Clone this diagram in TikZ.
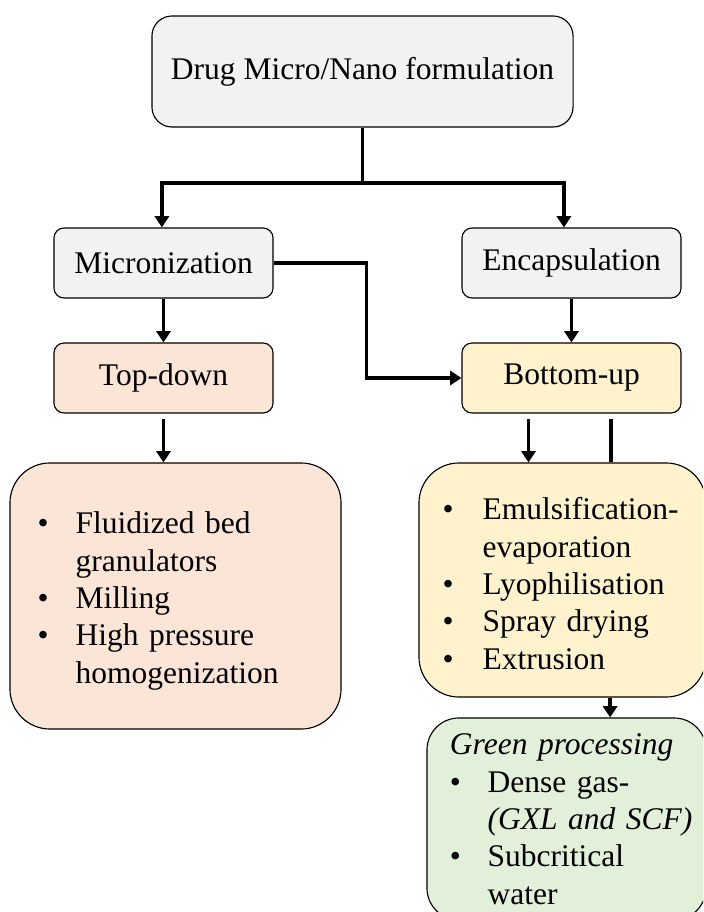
\documentclass[tikz,border=0pt]{standalone}
\usepackage{fontspec}
\setmainfont{LiberationSerif}[Extension=.ttf, UprightFont=*-Regular, ItalicFont=*-Italic, BoldFont=*-Bold, BoldItalicFont=*-BoldItalic]
\usetikzlibrary{arrows.meta}
\definecolor{boxgray}{HTML}{F2F2F2}
\definecolor{downfill}{HTML}{FBE5D6}
\definecolor{upfill}{HTML}{FFF2CC}
\definecolor{greenfill}{HTML}{E2F0D9}
\begin{document}
\begin{tikzpicture}[x=0.025cm, y=-0.025cm, font=\fontsize{22.4}{26.6}\selectfont]
	\useasboundingbox (0,0) rectangle (703,912);
	\clip (0,0) rectangle (703,912);
	\tikzset{
		box/.style={draw=black, line width=0.8pt, fill=boxgray, rounded corners=0.25cm, minimum width=5.475cm, minimum height=1.75cm, inner sep=0pt},
		listbox/.style={draw=black, line width=0.8pt, rounded corners=1cm, align=left, inner ysep=0pt},
		link/.style={line width=2.5pt},
		arr/.style={link, -{Triangle[length=8pt, width=10pt]}}
	}
	\node[box, minimum width=10.525cm, minimum height=2.775cm, rounded corners=0.5cm] (top) at (362.5, 71.5) {Drug Micro/Nano formulation};
	\node[box] (micro) at (163.5, 263) {Micronization};
	\node[box] (encap) at (571.5, 263) {Encapsulation};
	\node[box, fill=downfill] (topdown) at (163.5, 378) {Top-down};
	\node[box, fill=upfill] (bottomup) at (571.5, 378) {Bottom-up};
	\node[listbox, fill=downfill, minimum width=8.275cm, minimum height=6.65cm, inner xsep=0.69cm, text width=6.895cm] (tdlist) at (175.5, 596) {%
		\begin{tabular}{@{}p{0.95cm}@{}l@{}}
			\rule{0pt}{25.7pt}\textbullet & Fluidized bed\\
			& granulators\\
			\textbullet & Milling\\
			\textbullet & High pressure\\
			& homogenization
		\end{tabular}};
	\node[listbox, fill=upfill, minimum width=7.175cm, minimum height=5.85cm, inner xsep=0.59cm, text width=5.995cm] (bulist) at (562.5, 580) {%
		\begin{tabular}{@{}p{1cm}@{}l@{}}
			\rule{0pt}{28.6pt}\textbullet & Emulsification-\\
			& evaporation\\
			\textbullet & Lyophilisation\\
			\textbullet & Spray drying\\
			\textbullet & Extrusion
		\end{tabular}};
	\node[listbox, fill=greenfill, rounded corners=0.8cm, minimum width=6.975cm, minimum height=5.05cm, inner xsep=0.575cm, text width=5.825cm] (green) at (566.5, 819) {%
		\begin{tabular}{@{}p{0.94cm}@{}l@{}}
			\multicolumn{2}{@{}l@{}}{\rule{0pt}{22.9pt}\itshape Green processing}\\
			\textbullet & Dense gas-\\
			& \itshape (GXL and SCF)\\
			\textbullet & Subcritical\\
			& water
		\end{tabular}};
	\coordinate (split) at (362.5, 183);
	\draw[link] (top.south) -- (split);
	\draw[arr] (split) -| ([xshift=-0.04cm]micro.north);
	\draw[arr] (split) -| ([xshift=-0.19cm]encap.north);
	\draw[arr] (micro.south) -- (topdown.north);
	\draw[arr] (encap.south) -- (bottomup.north);
	\draw[arr] (micro.east) -- ++(93,0) |- (bottomup.west);
	\draw[arr, shorten <=0.125cm] (topdown.south) -- (topdown.south |- tdlist.north);
	\draw[arr, shorten <=0.125cm] ([xshift=-1.075cm]bottomup.south) -- ([xshift=-1.075cm]bottomup.south |- bulist.north);
	\draw[link, shorten <=0.125cm] ([xshift=0.99cm]bottomup.south) -- ([xshift=0.99cm]bottomup.south |- bulist.north);
	\draw[arr] ([xshift=1.19cm]bulist.south) -- ([xshift=1.19cm]bulist.south |- green.north);
\end{tikzpicture}
\end{document}
